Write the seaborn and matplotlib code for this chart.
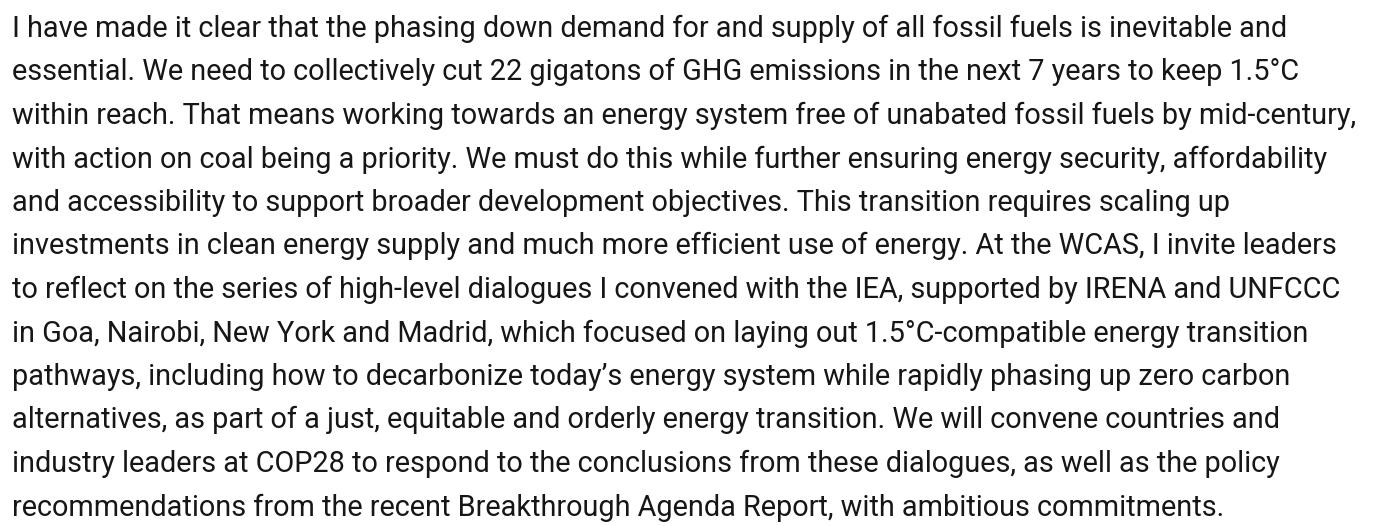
import matplotlib
matplotlib.use("Agg")
import matplotlib.pyplot as plt
import seaborn as sns

# paragraph lines, as they wrap in the picture
lines = [
    "I have made it clear that the phasing down demand for and supply of all fossil fuels is inevitable and",
    "essential. We need to collectively cut 22 gigatons of GHG emissions in the next 7 years to keep 1.5°C",
    "within reach. That means working towards an energy system free of unabated fossil fuels by mid-century,",
    "with action on coal being a priority. We must do this while further ensuring energy security, affordability",
    "and accessibility to support broader development objectives. This transition requires scaling up",
    "investments in clean energy supply and much more efficient use of energy. At the WCAS, I invite leaders",
    "to reflect on the series of high-level dialogues I convened with the IEA, supported by IRENA and UNFCCC",
    "in Goa, Nairobi, New York and Madrid, which focused on laying out 1.5°C-compatible energy transition",
    "pathways, including how to decarbonize today\u2019s energy system while rapidly phasing up zero carbon",
    "alternatives, as part of a just, equitable and orderly energy transition. We will convene countries and",
    "industry leaders at COP28 to respond to the conclusions from these dialogues, as well as the policy",
    "recommendations from the recent Breakthrough Agenda Report, with ambitious commitments.",
]

sns.set_theme(style="white")
plt.rcParams["font.family"] = ["Roboto", "DejaVu Sans"]

fig = plt.figure(figsize=(13.73, 5.26), dpi=100)
ax = fig.add_axes([0, 0, 1, 1])
ax.set_xlim(0, 1373)
ax.set_ylim(526, 0)
ax.axis("off")

base0 = 37
step = 43.5
for i, line in enumerate(lines):
    ax.text(12, base0 + i * step, line, fontsize=20.8, color="#161616",
            ha="left", va="baseline")

fig.savefig("out.png", dpi=100, facecolor="white")
